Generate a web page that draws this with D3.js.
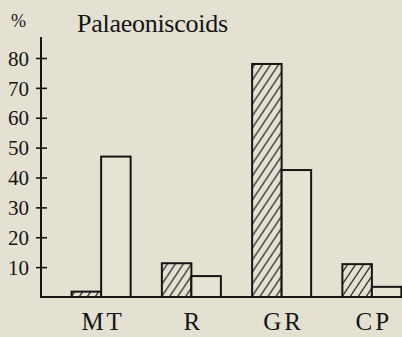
<!DOCTYPE html>
<html><head><meta charset="utf-8">
<script src="https://cdn.jsdelivr.net/npm/d3@7"></script>
<style>
html,body{margin:0;padding:0;background:#e4e1d2;}
svg{display:block;}
svg text{font-family:"Liberation Serif",serif !important;fill:#151515;}
</style></head>
<body>
<svg id="chart" width="402" height="337"></svg>
<script>
const categories = ["MT","R","GR","CP"];
const hatchedValues = [1.8, 11.3, 78, 11];
const openValues = [47, 7, 42.5, 3.4];
const yTicks = [10,20,30,40,50,60,70,80];
const title = "Palaeoniscoids";

const svg = d3.select("#chart");
const W = 402, H = 337;
svg.append("rect").attr("width",W).attr("height",H).attr("fill","#e4e1d2");

const defs = svg.append("defs");
const pat = defs.append("pattern").attr("id","hatch").attr("patternUnits","userSpaceOnUse")
  .attr("width",8).attr("height",12);
pat.append("rect").attr("width",8).attr("height",12).attr("fill","#e4e1d2");
[[-8,0],[0,0],[8,0]].forEach(([dx])=>{
  pat.append("line").attr("x1",dx).attr("y1",12).attr("x2",dx+8).attr("y2",0)
    .attr("stroke","#151515").attr("stroke-width",1.2);
});

const y = d3.scaleLinear().domain([0,80]).range([297,58]);
const x = d3.scaleBand().domain(categories).range([56,417]).padding(0);
const xs = d3.scaleBand().domain(["h","o"]).range([-29.5,29.5]).padding(0);

// y axis
const axisX = 41;
const yAxis = svg.append("g").attr("transform",`translate(${axisX},0)`)
  .call(d3.axisLeft(y).tickValues(yTicks).tickSize(5).tickPadding(7));
yAxis.attr("font-family",null);
yAxis.select(".domain").remove();
yAxis.selectAll(".tick line").attr("x1",6).attr("x2",-5).attr("stroke","#151515").attr("stroke-width",1.6);
yAxis.selectAll(".tick text").attr("font-size",21).attr("dy","0.34em")
  .style("font-family","'Liberation Serif', serif").attr("fill","#151515");
svg.append("line").attr("x1",axisX).attr("x2",axisX).attr("y1",y(87)).attr("y2",y(0)+1)
  .attr("stroke","#151515").attr("stroke-width",2);

// bars
const groups = svg.append("g").selectAll("g").data(categories).join("g")
  .attr("transform",d=>`translate(${x(d)+x.bandwidth()/2},0)`);
groups.append("rect")
  .attr("x",xs("h")).attr("width",xs.bandwidth())
  .attr("y",(d,i)=>y(hatchedValues[i])).attr("height",(d,i)=>y(0)-y(hatchedValues[i]))
  .attr("fill","url(#hatch)").attr("stroke","#151515").attr("stroke-width",2);
groups.append("rect")
  .attr("x",xs("o")).attr("width",xs.bandwidth())
  .attr("y",(d,i)=>y(openValues[i])).attr("height",(d,i)=>y(0)-y(openValues[i]))
  .attr("fill","#e6e3d5").attr("stroke","#151515").attr("stroke-width",2);

// baseline
svg.append("line").attr("x1",axisX).attr("x2",W).attr("y1",y(0)).attr("y2",y(0))
  .attr("stroke","#151515").attr("stroke-width",2);

// category labels
svg.append("g").selectAll("text").data(categories).join("text")
  .attr("x",d=>x(d)+x.bandwidth()/2+2).attr("y",330)
  .attr("text-anchor","middle").attr("font-size",25).attr("letter-spacing",3)
  .text(d=>d);

// title and unit
svg.append("text").attr("x",77).attr("y",32).attr("font-size",26)
  .attr("textLength",151).attr("lengthAdjust","spacing").text(title);
svg.append("text").attr("x",11).attr("y",27).attr("font-size",18).text("%");
</script>
</body></html>
